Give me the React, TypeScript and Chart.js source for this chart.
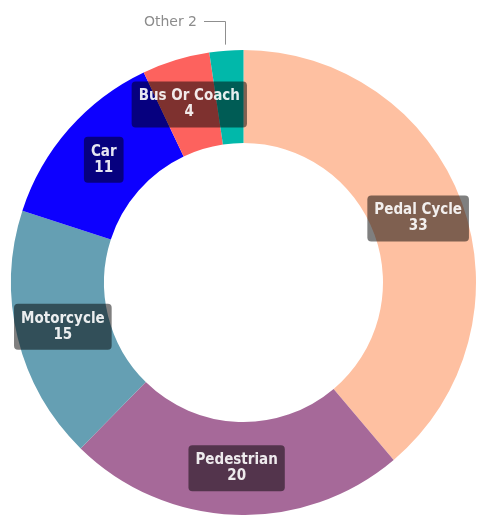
import { useEffect, useRef } from "react";
import { Chart, registerables } from "chart.js";

Chart.register(...registerables);

const categories = ["Pedal Cycle", "Pedestrian", "Motorcycle", "Car", "Bus Or Coach", "Other"];
const values = [33, 20, 15, 11, 4, 2];
const colors = ["#FEC0A1", "#A66999", "#659FB3", "#0D00FF", "#FD625E", "#01B8AA"];

const labelFont = "bold 15px 'DejaVu Sans Condensed', 'DejaVu Sans', sans-serif";
const outsideFont = "14px 'DejaVu Sans', sans-serif";

const sliceLabels = {
  id: "sliceLabels",
  afterDatasetsDraw(chart: any) {
    const ctx: CanvasRenderingContext2D = chart.ctx;
    const meta = chart.getDatasetMeta(0);
    const total = values.reduce((a, b) => a + b, 0);
    ctx.save();
    meta.data.forEach((arc: any, i: number) => {
      const v = values[i];
      const name = categories[i];
      if (v / total < 0.03) {
        const p = arc.getProps(["x", "y", "startAngle", "endAngle", "outerRadius"], true);
        const mid = (p.startAngle + p.endAngle) / 2;
        const px = p.x + Math.cos(mid) * p.outerRadius;
        const py = p.y + Math.sin(mid) * p.outerRadius;
        const ly = 21;
        ctx.strokeStyle = "#8f8f8f";
        ctx.lineWidth = 1;
        ctx.beginPath();
        ctx.moveTo(Math.round(px) - 0.5, py - 6);
        ctx.lineTo(Math.round(px) - 0.5, ly + 0.5);
        ctx.lineTo(Math.round(px) - 22, ly + 0.5);
        ctx.stroke();
        ctx.font = outsideFont;
        ctx.fillStyle = "#8c8c8c";
        ctx.textAlign = "right";
        ctx.textBaseline = "middle";
        ctx.fillText(name + " " + v, Math.round(px) - 29, ly + 1);
      } else {
        const pos = arc.tooltipPosition(true);
        ctx.font = labelFont;
        const w = Math.max(ctx.measureText(name).width, ctx.measureText(String(v)).width) + 14;
        const h = 46;
        ctx.fillStyle = "rgba(0,0,0,0.5)";
        ctx.beginPath();
        (ctx as any).roundRect(pos.x - w / 2, pos.y - h / 2, w, h, 4);
        ctx.fill();
        ctx.fillStyle = "rgba(255,255,255,0.9)";
        ctx.textAlign = "center";
        ctx.textBaseline = "middle";
        ctx.fillText(name, pos.x, pos.y - 8);
        ctx.fillText(String(v), pos.x, pos.y + 8);
      }
    });
    ctx.restore();
  },
};

export default function App() {
  const ref = useRef<HTMLCanvasElement>(null);
  useEffect(() => {
    document.body.style.margin = "0";
    document.body.style.overflow = "hidden";
    const chart = new Chart(ref.current!, {
      type: "doughnut",
      data: {
        labels: categories,
        datasets: [
          {
            data: values,
            backgroundColor: colors,
            borderWidth: 0,
            hoverOffset: 0,
            offset: 0,
          },
        ],
      },
      options: {
        responsive: false,
        maintainAspectRatio: false,
        animation: false,
        cutout: "60%",
        layout: { padding: { left: 10, right: 1, top: 50, bottom: -2 } },
        plugins: { legend: { display: false }, tooltip: { enabled: false } },
      },
      plugins: [sliceLabels],
    });
    return () => chart.destroy();
  }, []);
  return <canvas ref={ref} width={478} height={515} style={{ display: "block" }} />;
}
